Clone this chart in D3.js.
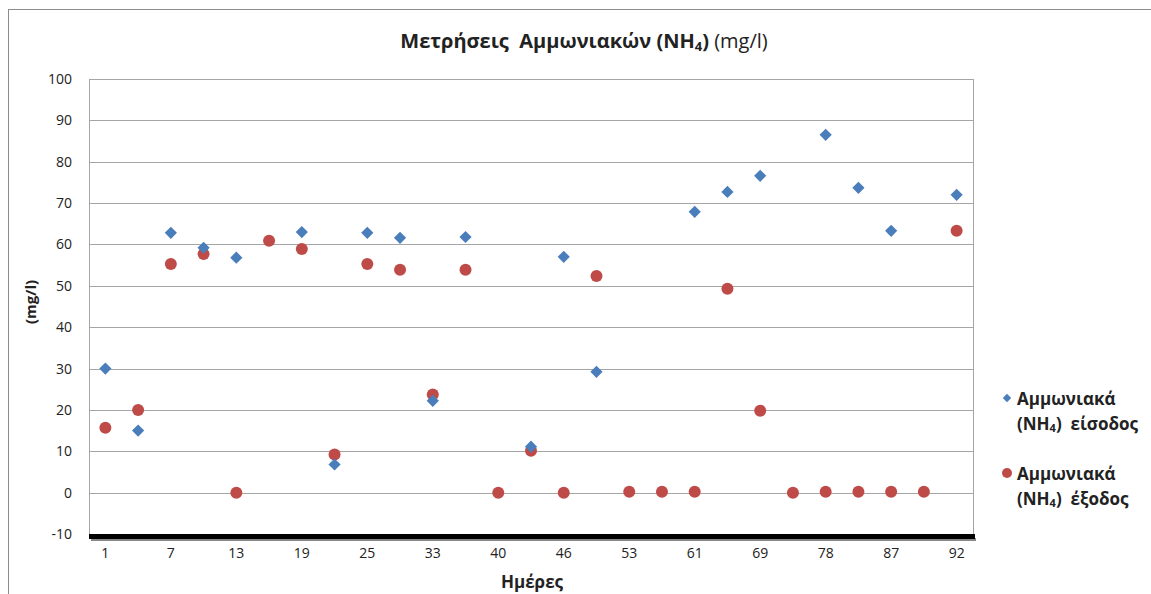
<!DOCTYPE html>
<html>
<head>
<meta charset="utf-8">
<script src="https://cdn.jsdelivr.net/npm/d3@7"></script>
<style>
  body { margin: 0; background: #fff; }
  text { font-family: "Open Sans", "Noto Sans", sans-serif; fill: #222; white-space: pre; }
</style>
</head>
<body>
<div id="chart"></div>
<script>
// 27 measurement days, only every other one is labelled on the axis
const days = ["1", "4", "7", "10", "13", "16", "19", "22", "25", "29", "33", "36", "40", "43",
    "46", "49", "53", "57", "61", "65", "69", "73", "78", "82", "87", "89", "92"];
const inletValues = [30, 15, 62.8, 59.2, 56.8, null, 63, 6.8, 62.8, 61.6, 22.2, 61.8, null, 11.1,
    57, 29.2, null, null, 67.9, 72.7, 76.6, null, 86.5, 73.7, 63.3, null, 72];
const outletValues = [15.7, 20, 55.3, 57.7, 0, 60.9, 58.9, 9.2, 55.3, 53.9, 23.7, 53.9, 0, 10.1,
    0, 52.4, 0.2, 0.2, 0.2, 49.3, 19.8, 0, 0.2, 0.2, 0.2, 0.2, 63.3];
const yTicks = [-10, 0, 10, 20, 30, 40, 50, 60, 70, 80, 90, 100];

const width = 1151, height = 594;
const plot = {left: 89, right: 973, top: 79, bottom: 534};

const svg = d3.select("#chart").append("svg")
    .attr("width", width)
    .attr("height", height);

// outer chart frame (runs off the right and bottom of the picture)
svg.append("rect")
    .attr("x", 8.5).attr("y", 9.5)
    .attr("width", 1160).attr("height", 600)
    .attr("fill", "none")
    .attr("stroke", "#8c8c8c");

const x = d3.scaleBand()
    .domain(days)
    .range([plot.left, plot.right]);

const y = d3.scaleLinear()
    .domain([-10, 100])
    .range([plot.bottom, plot.top]);

// gridlines
svg.append("g")
    .selectAll("line")
    .data(yTicks.filter(d => d > -10))
    .enter()
    .append("line")
    .attr("x1", plot.left).attr("x2", plot.right)
    .attr("y1", d => Math.round(y(d)) + 0.5)
    .attr("y2", d => Math.round(y(d)) + 0.5)
    .attr("stroke", "#a6a6a6")
    .attr("stroke-width", 1);

// plot area sides
svg.append("line")
    .attr("x1", plot.left + 0.5).attr("x2", plot.left + 0.5)
    .attr("y1", plot.top).attr("y2", plot.bottom)
    .attr("stroke", "#a6a6a6");
svg.append("line")
    .attr("x1", plot.right + 0.5).attr("x2", plot.right + 0.5)
    .attr("y1", plot.top).attr("y2", plot.bottom)
    .attr("stroke", "#a6a6a6");

// thick dark floor at -10 with a soft shadow
svg.append("rect")
    .attr("x", plot.left + 2).attr("y", y(-10) + 4)
    .attr("width", plot.right - plot.left + 1).attr("height", 3)
    .attr("fill", "#888");
svg.append("rect")
    .attr("x", plot.left).attr("y", y(-10))
    .attr("width", plot.right - plot.left + 2).attr("height", 5)
    .attr("fill", "#000");

// y axis labels
const yAxis = svg.append("g")
    .attr("transform", `translate(${plot.left}, 0)`)
    .call(d3.axisLeft(y).tickValues(yTicks).tickFormat(d => String(d)).tickSize(0).tickPadding(17));
yAxis.select(".domain").remove();
yAxis.selectAll("text")
    .style("font-size", "14px")
    .style("font-family", "'Open Sans', sans-serif")
    .attr("fill", "#333");

// x axis labels
const xAxis = svg.append("g")
    .attr("transform", `translate(0, ${plot.bottom})`)
    .call(d3.axisBottom(x)
        .tickValues(days.filter((d, i) => i % 2 === 0))
        .tickSize(0)
        .tickPadding(14));
xAxis.select(".domain").remove();
xAxis.selectAll("text")
    .style("font-size", "14px")
    .style("font-family", "'Open Sans', sans-serif")
    .attr("fill", "#333");

const cx = d => x(d) + x.bandwidth() / 2;
const blue = "#4a7ebb", red = "#be4b48";

// outlet (red circles)
svg.append("g")
    .selectAll("circle")
    .data(days.map((d, i) => ({day: d, v: outletValues[i]})).filter(d => d.v !== null))
    .enter()
    .append("circle")
    .attr("cx", d => cx(d.day))
    .attr("cy", d => y(d.v))
    .attr("r", 6)
    .attr("fill", red);

// inlet (blue diamonds)
const diamond = d3.symbol().type(d3.symbolDiamond2).size(95);
svg.append("g")
    .selectAll("path")
    .data(days.map((d, i) => ({day: d, v: inletValues[i]})).filter(d => d.v !== null))
    .enter()
    .append("path")
    .attr("d", diamond)
    .attr("transform", d => `translate(${cx(d.day)}, ${y(d.v)})`)
    .attr("fill", blue);

// title
const title = svg.append("text")
    .attr("x", 584)
    .attr("y", 48)
    .attr("text-anchor", "middle")
    .style("font-size", "20px");
title.append("tspan").attr("font-weight", "bold").text("Μετρήσεις  Αμμωνιακών (NH");
title.append("tspan").attr("font-weight", "bold").attr("font-size", "13px").attr("dy", 3).text("4");
title.append("tspan").attr("font-weight", "bold").attr("dy", -3).text(")");
title.append("tspan").attr("font-weight", "normal").text(" (mg/l)");

// axis titles
svg.append("text")
    .attr("transform", "rotate(-90)")
    .attr("x", -302)
    .attr("y", 36)
    .attr("text-anchor", "middle")
    .attr("font-weight", "bold")
    .style("font-size", "15px")
    .text("(mg/l)");

svg.append("text")
    .attr("x", 532)
    .attr("y", 588)
    .attr("text-anchor", "middle")
    .attr("font-weight", "bold")
    .style("font-size", "17px")
    .text("Ημέρες");

// legend
const legend = [
    {name: "είσοδος", y: 398, kind: "diamond"},
    {name: "έξοδος", y: 473, kind: "circle"}
];
legend.forEach(function(item) {
    if (item.kind === "diamond") {
        svg.append("path")
            .attr("d", d3.symbol().type(d3.symbolDiamond2).size(45))
            .attr("transform", `translate(1007, ${item.y})`)
            .attr("fill", blue);
    } else {
        svg.append("circle")
            .attr("cx", 1007).attr("cy", item.y)
            .attr("r", 5)
            .attr("fill", red);
    }
    svg.append("text")
        .attr("x", 1017).attr("y", item.y + 7)
        .attr("font-weight", "bold")
        .style("font-size", "17px")
        .text("Αμμωνιακά");
    const t = svg.append("text")
        .attr("x", 1017).attr("y", item.y + 32)
        .attr("font-weight", "bold")
        .style("font-size", "17px");
    t.append("tspan").text("(NH");
    t.append("tspan").attr("font-size", "11px").attr("dy", 2).text("4");
    t.append("tspan").attr("dy", -2).text(")  " + item.name);
});
</script>
</body>
</html>
